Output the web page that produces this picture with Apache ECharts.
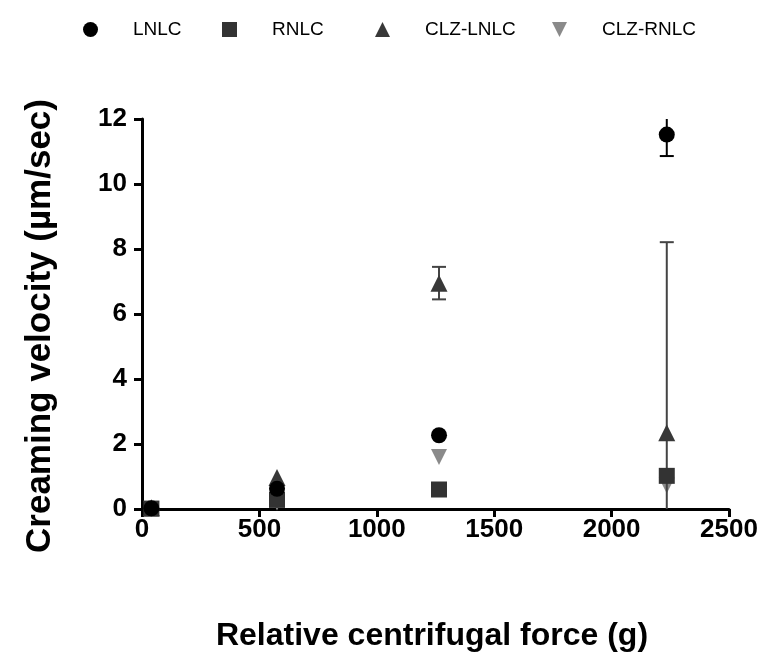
<!DOCTYPE html>
<html>
<head>
<meta charset="utf-8">
<script src="https://cdn.jsdelivr.net/npm/echarts@6/dist/echarts.min.js"></script>
<style>html,body{margin:0;padding:0;background:#fff;}#chart{width:761px;height:653px;}</style>
</head>
<body>
<div id="chart"></div>
<script>
// ---- data ----
var seriesNames = ['LNLC', 'RNLC', 'CLZ-LNLC', 'CLZ-RNLC'];
var rcf = [40, 575, 1265, 2235];
var lnlcMean = [0.02, 0.62, 2.27, 11.52];
var lnlcSD   = [0, 0, 0, 0.66];
var rnlcMean = [0.01, 0.28, 0.60, 1.02];
var rnlcSD   = [0, 0, 0, 0];
var clzLnlcMean = [0.04, 0.97, 6.95, 2.35];
var clzLnlcSD   = [0, 0, 0.50, 5.86];
var clzRnlcMean = [0.01, 0.20, 1.60, 0.72];
var clzRnlcSD   = [0, 0, 0, 0];
var xTicks = [0, 500, 1000, 1500, 2000, 2500];
var yTicks = [0, 2, 4, 6, 8, 10, 12];

var X_MIN = 0, X_MAX = 2500, Y_MIN = 0, Y_MAX = 12;
var FONT = "'Liberation Sans', Arial, Helvetica, sans-serif";
var colors = ['#000000', '#333333', '#383838', '#8a8a8a'];
var barColors = ['#000000', '#333333', '#444444', '#777777'];
var symbols = ['circle', 'rect', 'triangle', 'path://M0,0L2,0L1,2Z'];
var symSizes = [16, 16, 17, 16];
var means = [lnlcMean, rnlcMean, clzLnlcMean, clzRnlcMean];
var sds = [lnlcSD, rnlcSD, clzLnlcSD, clzRnlcSD];

function pts(m) { return rcf.map(function (x, i) { return [x, m[i]]; }); }
function errData(m, s) { return rcf.map(function (x, i) { return [x, m[i] - s[i], m[i] + s[i]]; }); }

function makeErrRender(color) {
  return function (params, api) {
    var x = api.value(0), lo = api.value(1), hi = api.value(2);
    if (hi - lo <= 0) return null;
    var loC = Math.max(lo, Y_MIN), hiC = Math.min(hi, Y_MAX);
    var p1 = api.coord([x, loC]), p2 = api.coord([x, hiC]);
    var half = 7;
    var st = { stroke: color, lineWidth: 2 };
    var ch = [{ type: 'line', shape: { x1: p1[0], y1: p1[1], x2: p2[0], y2: p2[1] }, style: st }];
    if (lo >= Y_MIN) ch.push({ type: 'line', shape: { x1: p1[0] - half, y1: p1[1], x2: p1[0] + half, y2: p1[1] }, style: st });
    if (hi <= Y_MAX) ch.push({ type: 'line', shape: { x1: p2[0] - half, y1: p2[1], x2: p2[0] + half, y2: p2[1] }, style: st });
    return { type: 'group', children: ch };
  };
}

var series = [];
var drawOrder = [3, 2, 1, 0];
drawOrder.forEach(function (k, j) {
  series.push({
    type: 'custom', name: seriesNames[k] + '-err', renderItem: makeErrRender(barColors[k]),
    data: errData(means[k], sds[k]), z: 2 + j * 2, silent: true, clip: false
  });
  series.push({
    type: 'scatter', name: seriesNames[k], data: pts(means[k]), symbol: symbols[k],
    symbolSize: symSizes[k], itemStyle: { color: colors[k], opacity: 1 }, z: 3 + j * 2
  });
});

var legendLefts = [78, 217, 370, 547];
var legends = seriesNames.map(function (n, i) {
  return {
    data: [n], left: legendLefts[i], top: 15, orient: 'horizontal',
    itemWidth: 15, itemHeight: 15, itemGap: 0, selectedMode: false,
    textStyle: { fontFamily: FONT, fontSize: 19, color: '#000', padding: [0, 0, 0, 30] }
  };
});

var chart = echarts.init(document.getElementById('chart'), null, { renderer: 'canvas' });
chart.setOption({
  animation: false,
  backgroundColor: '#fff',
  legend: legends,
  grid: { left: 142, right: 32, top: 119, bottom: 144, containLabel: false, outerBoundsMode: 'none' },
  xAxis: {
    type: 'value', min: X_MIN, max: X_MAX, interval: xTicks[1] - xTicks[0],
    axisLine: { show: true, onZero: false, lineStyle: { color: '#000', width: 3 } },
    axisTick: { show: true, length: 8, lineStyle: { color: '#000', width: 3 } },
    axisLabel: { fontFamily: FONT, fontSize: 26, fontWeight: 'bold', color: '#000', margin: 8,
                 formatter: function (v) { return String(v); } },
    splitLine: { show: false }
  },
  yAxis: {
    type: 'value', min: Y_MIN, max: Y_MAX, interval: yTicks[1] - yTicks[0],
    axisLine: { show: true, onZero: false, lineStyle: { color: '#000', width: 3 } },
    axisTick: { show: true, length: 8, lineStyle: { color: '#000', width: 3 } },
    axisLabel: { fontFamily: FONT, fontSize: 26, fontWeight: 'bold', color: '#000', margin: 15,
                 formatter: function (v) { return String(v); } },
    splitLine: { show: false }
  },
  graphic: [
    { type: 'text', x: 432, y: 636, z: 100,
      style: { text: 'Relative centrifugal force (g)', fontFamily: FONT, fontSize: 32, fontWeight: 'bold',
               fill: '#000', align: 'center', verticalAlign: 'middle' } },
    { type: 'text', x: 40, y: 326, rotation: Math.PI / 2, z: 100,
      style: { text: 'Creaming velocity (µm/sec)', fontFamily: FONT, fontSize: 35, fontWeight: 'bold',
               fill: '#000', align: 'center', verticalAlign: 'middle' } }
  ],
  series: series
});
</script>
</body>
</html>
